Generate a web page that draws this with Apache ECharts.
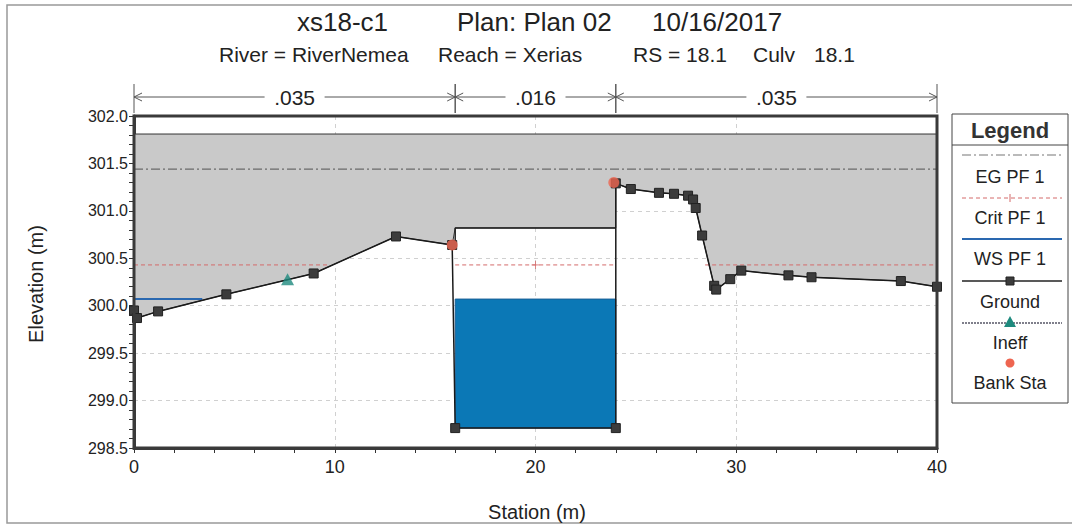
<!DOCTYPE html>
<html><head><meta charset="utf-8">
<script src="https://cdn.jsdelivr.net/npm/echarts@6/dist/echarts.min.js"></script>
<style>html,body{margin:0;padding:0;background:#fff}#c{width:1072px;height:526px}</style>
</head><body><div id="c"></div>
<script>
// ---- data ----
const groundX = [0, 0.15, 1.2, 4.6, 8.95, 13.05, 15.85, 16, 24, 24, 24.75, 26.15, 26.9, 27.6, 27.85, 27.98, 28.3, 28.9, 29.0, 29.7, 30.25, 32.6, 33.75, 38.2, 40];
const groundY = [299.95, 299.87, 299.94, 300.12, 300.34, 300.73, 300.64, 298.71, 298.71, 301.29, 301.23, 301.19, 301.18, 301.16, 301.12, 301.03, 300.74, 300.21, 300.17, 300.28, 300.37, 300.32, 300.30, 300.26, 300.20];
const bankX = [15.85, 23.9];
const bankY = [300.64, 301.30];
const ineffX = [7.65];
const ineffY = [300.28];
const egElev = 301.44;
const egRange = [0, 40];
const critElev = 300.43;
const critSegments = [[0, 9.7], [16, 24], [28.45, 40]];
const critMarkX = [20];
const wsElev = 300.07;
const wsRange = [0, 3.4];
const culvertX = [16, 24];
const culvertTop = 300.82;
const culvertInvert = 298.71;
const deckTop = 301.81;
const nStations = [0, 16, 24, 40];
const nValues = ['.035', '.016', '.035'];
const xTicks = [0, 40, 10];
const yTicks = [298.5, 302.0, 0.5];
const titleParts = ['xs18-c1', 'Plan: Plan 02', '10/16/2017'];
const subtitleParts = ['River = RiverNemea', 'Reach = Xerias', 'RS = 18.1', 'Culv', '18.1'];
const legendNames = ['EG PF 1', 'Crit PF 1', 'WS PF 1', 'Ground', 'Ineff', 'Bank Sta'];

// ---- layout ----
const G = {left: 134, top: 116, width: 803, height: 332};
const FONT = '"Liberation Sans", Arial, sans-serif';
const titleLeft = [297, 457, 652];
const subLeft = [219, 438, 633, 753, 814];

const ground = groundX.map((x, i) => [x, groundY[i]]);

function deckPolygon() {
  const pts = [[egRange[0], deckTop], [egRange[1], deckTop]];
  for (let i = groundX.length - 1; i >= 0; i--) {
    if (groundX[i] >= culvertX[1] && !(groundX[i] === culvertX[1] && groundY[i] < culvertTop)) pts.push([groundX[i], groundY[i]]);
  }
  pts.push([culvertX[1], culvertTop], [culvertX[0], culvertTop]);
  for (let i = groundX.length - 1; i >= 0; i--) {
    if (groundX[i] < culvertX[0]) pts.push([groundX[i], groundY[i]]);
  }
  return pts;
}

const critData = [];
critSegments.forEach((s, i) => {
  if (i > 0) critData.push([s[0], '-']);
  critData.push([s[0], critElev], [s[1], critElev]);
});

const chart = echarts.init(document.getElementById('c'), null, {renderer: 'svg'});

const ly = [155, 177, 198, 218, 239, 259, 281, 302, 323, 343, 363, 383];
const LX1 = 962, LX2 = 1062, LC = 1010;
const txt = (x, y, s, size, extra) => Object.assign({type: 'text', x: x, y: y, style: {text: s, font: size + 'px ' + FONT, fill: '#222', align: 'center', verticalAlign: 'middle'}}, extra || {});
const legendGraphics = [
  {type: 'rect', shape: {x: 952, y: 114, width: 116, height: 289}, style: {fill: '#fff', stroke: '#444', lineWidth: 1}},
  {type: 'line', shape: {x1: 952, y1: 145, x2: 1068, y2: 145}, style: {stroke: '#444', lineWidth: 1}},
  {type: 'text', x: LC, y: 130, style: {text: 'Legend', font: 'bold 22px ' + FONT, fill: '#333', align: 'center', verticalAlign: 'middle'}},
  {type: 'line', shape: {x1: LX1, y1: ly[0], x2: LX2, y2: ly[0]}, style: {stroke: '#777', lineWidth: 1.2, lineDash: [9, 3, 2, 3]}},
  txt(LC, ly[1], legendNames[0], 18),
  {type: 'line', shape: {x1: LX1, y1: ly[2], x2: LX2, y2: ly[2]}, style: {stroke: '#d46a6a', lineWidth: 1, lineDash: [4, 3]}},
  {type: 'line', shape: {x1: LC, y1: ly[2] - 4, x2: LC, y2: ly[2] + 4}, style: {stroke: '#d46a6a', lineWidth: 1}},
  txt(LC, ly[3], legendNames[1], 18),
  {type: 'line', shape: {x1: LX1, y1: ly[4], x2: LX2, y2: ly[4]}, style: {stroke: '#2a68b0', lineWidth: 2}},
  txt(LC, ly[5], legendNames[2], 18),
  {type: 'line', shape: {x1: LX1, y1: ly[6], x2: LX2, y2: ly[6]}, style: {stroke: '#222', lineWidth: 1.5}},
  {type: 'rect', shape: {x: LC - 4, y: ly[6] - 4, width: 8, height: 8}, style: {fill: '#3c3c3c', stroke: '#222', lineWidth: 1}},
  txt(LC, ly[7], legendNames[3], 18),
  {type: 'line', shape: {x1: LX1, y1: ly[8], x2: LX2, y2: ly[8]}, style: {stroke: '#556', lineWidth: 1.5, lineDash: [2, 1]}},
  {type: 'polygon', shape: {points: [[LC, ly[8] - 7], [LC - 6, ly[8] + 4], [LC + 6, ly[8] + 4]]}, style: {fill: '#1e8a7e'}},
  txt(LC, ly[9], legendNames[4], 18),
  {type: 'circle', shape: {cx: LC, cy: ly[10], r: 4.5}, style: {fill: '#ee6550'}},
  txt(LC, ly[11], legendNames[5], 18)
];

const titleGraphics = [];
titleParts.forEach((s, i) => titleGraphics.push({type: 'text', x: titleLeft[i], y: 22, style: {text: s, font: '26px ' + FONT, fill: '#222', align: 'left', verticalAlign: 'middle'}}));
subtitleParts.forEach((s, i) => titleGraphics.push({type: 'text', x: subLeft[i], y: 54, style: {text: s, font: '21px ' + FONT, fill: '#222', align: 'left', verticalAlign: 'middle'}}));

const option = {
  backgroundColor: '#fff',
  animation: false,
  grid: {left: G.left, top: G.top, width: G.width, height: G.height, show: false},
  xAxis: {
    type: 'value', min: xTicks[0], max: xTicks[1], interval: xTicks[2],
    axisLine: {show: true, onZero: false, lineStyle: {color: '#3a3a3a', width: 3}},
    axisTick: {show: true, length: 5, lineStyle: {color: '#333', width: 1}},
    minorTick: {show: true, splitNumber: 5, length: 5, lineStyle: {color: '#333', width: 1}},
    axisLabel: {fontSize: 18, color: '#222', margin: 10, fontFamily: FONT},
    splitLine: {show: true, lineStyle: {color: '#d0d0d0', type: [4, 4], width: 1}}
  },
  yAxis: {
    type: 'value', min: yTicks[0], max: yTicks[1], interval: yTicks[2],
    axisLine: {show: true, onZero: false, lineStyle: {color: '#3a3a3a', width: 3}},
    axisTick: {show: true, length: 5, lineStyle: {color: '#333', width: 1}},
    minorTick: {show: true, splitNumber: 5, length: 5, lineStyle: {color: '#333', width: 1}},
    axisLabel: {fontSize: 16, color: '#222', margin: 6, fontFamily: FONT, formatter: v => v.toFixed(1)},
    splitLine: {show: true, lineStyle: {color: '#d0d0d0', type: [4, 4], width: 1}}
  },
  graphic: [
    {type: 'rect', shape: {x: 7, y: 5, width: 1080, height: 518}, style: {fill: 'none', stroke: '#999', lineWidth: 1.5}, z: 0},
    ...titleGraphics,
    txt(537, 512, 'Station (m)', 20),
    txt(36, 284, 'Elevation (m)', 20, {rotation: Math.PI / 2}),
    {type: 'rect', shape: {x: G.left, y: G.top, width: G.width, height: G.height}, style: {fill: 'none', stroke: '#3a3a3a', lineWidth: 3}, z: 100},
    ...legendGraphics
  ],
  series: [
    {
      type: 'custom', name: 'Deck', z: 1, clip: true, data: [0],
      renderItem: (params, api) => ({
        type: 'polygon',
        shape: {points: deckPolygon().map(p => api.coord(p))},
        style: {fill: '#c9c9c9', stroke: '#333', lineWidth: 1}
      })
    },
    {
      type: 'custom', name: 'CulvertWater', z: 2, data: [0],
      renderItem: (params, api) => {
        const a = api.coord([culvertX[0], wsElev]);
        const b = api.coord([culvertX[1], culvertInvert]);
        return {type: 'rect', shape: {x: a[0], y: a[1], width: b[0] - a[0], height: b[1] - a[1]},
          style: {fill: '#0b78b6', stroke: '#1a5f96', lineWidth: 1}};
      }
    },
    {
      type: 'line', name: 'EG PF 1', z: 3, symbol: 'none', silent: true,
      data: [[egRange[0], egElev], [egRange[1], egElev]],
      lineStyle: {color: '#6a6a6a', width: 1.2, type: [9, 3, 2, 3]}
    },
    {
      type: 'line', name: 'Crit PF 1', z: 3, symbol: 'none', silent: true, connectNulls: false,
      data: critData,
      lineStyle: {color: '#d46a6a', width: 1, type: [4, 3]}
    },
    {
      type: 'scatter', name: 'CritMark', z: 3, symbol: 'path://M5,0L5,10M0,5L10,5', symbolSize: 8,
      data: critMarkX.map(x => [x, critElev]),
      itemStyle: {color: 'none', borderColor: '#d46a6a', borderWidth: 1}
    },
    {
      type: 'line', name: 'WS PF 1', z: 4, symbol: 'none', silent: true,
      data: [[wsRange[0], wsElev], [wsRange[1], wsElev]],
      lineStyle: {color: '#2a68b0', width: 2}
    },
    {
      type: 'line', name: 'Culvert', z: 5, symbol: 'none', silent: true,
      data: [[culvertX[0], bankY[0]], [culvertX[0], culvertTop], [culvertX[1], culvertTop]],
      lineStyle: {color: '#222', width: 1.5}
    },
    {
      type: 'line', name: 'Ground', z: 6, symbol: 'rect', symbolSize: 9, showAllSymbol: true,
      data: ground,
      lineStyle: {color: '#1a1a1a', width: 1.5},
      itemStyle: {color: '#3c3c3c', borderColor: '#222', borderWidth: 1}
    },
    {
      type: 'scatter', name: 'Ineff', z: 7, symbol: 'triangle', symbolSize: [13, 12],
      data: ineffX.map((x, i) => [x, ineffY[i]]),
      itemStyle: {color: '#1e8a7e'}
    },
    {
      type: 'scatter', name: 'Bank Sta', z: 8, symbol: 'circle', symbolSize: 11,
      data: bankX.map((x, i) => [x, bankY[i]]),
      itemStyle: {color: '#ee6550'}
    },
    {
      type: 'custom', name: 'Manning', clip: false, z: 9,
      data: nValues.map((v, i) => [nStations[i], nStations[i + 1], i]),
      renderItem: (params, api) => {
        const x1 = api.coord([api.value(0), yTicks[1]])[0];
        const x2 = api.coord([api.value(1), yTicks[1]])[0];
        const y = 97, c = (x1 + x2) / 2, hg = 30, ah = 8;
        const st = {stroke: '#555', lineWidth: 1, fill: 'none'};
        const children = [
          {type: 'line', shape: {x1: x1, y1: 84, x2: x1, y2: 113}, style: st},
          {type: 'line', shape: {x1: x2, y1: 84, x2: x2, y2: 113}, style: st},
          {type: 'line', shape: {x1: x1, y1: y, x2: c - hg, y2: y}, style: st},
          {type: 'line', shape: {x1: c + hg, y1: y, x2: x2, y2: y}, style: st},
          {type: 'polyline', shape: {points: [[x1 + ah, y - 4], [x1, y], [x1 + ah, y + 4]]}, style: st},
          {type: 'polyline', shape: {points: [[x2 - ah, y - 4], [x2, y], [x2 - ah, y + 4]]}, style: st},
          {type: 'text', x: c, y: y, style: {text: nValues[api.value(2)], font: '21px ' + FONT, fill: '#222', align: 'center', verticalAlign: 'middle'}}
        ];
        return {type: 'group', children: children};
      }
    }
  ]
};
chart.setOption(option);
</script></body></html>
